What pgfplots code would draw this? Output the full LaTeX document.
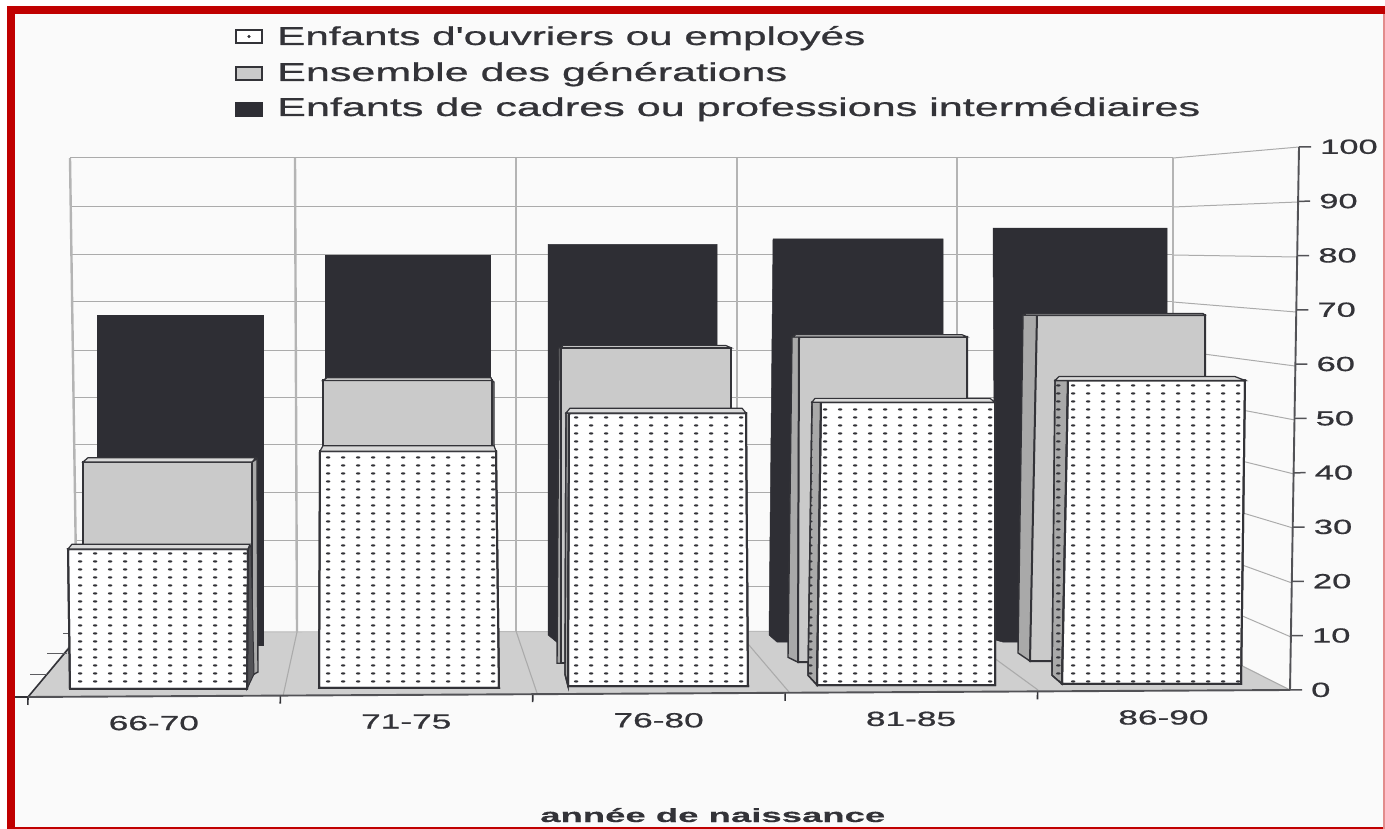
\documentclass[border=0pt]{standalone}
\usepackage{pgfplots}
\pgfplotsset{compat=1.18}
\usepackage{fontspec}
\usepackage{graphicx}
\usetikzlibrary{patterns}
\newfontfamily\lib[FakeBold=0.6]{Liberation Sans}
\newfontfamily\libb[FakeBold=0.3]{Liberation Sans Bold}
\definecolor{ink}{HTML}{333338}
\definecolor{dk}{HTML}{2E2E34}
\definecolor{gy}{HTML}{CACACA}
\definecolor{gyl}{HTML}{DADADA}
\definecolor{gyd}{HTML}{A9A9A9}
\definecolor{flr}{HTML}{CFCFCF}
\definecolor{grd}{HTML}{ABABAB}
\definecolor{frame}{HTML}{C00000}
\definecolor{paper}{HTML}{FAFAFA}
\pgfdeclarepatternformonly{mydots}{\pgfqpoint{0pt}{0pt}}{\pgfqpoint{14.6pt}{8pt}}{\pgfqpoint{14.6pt}{8pt}}{%
  \pgfpathellipse{\pgfqpoint{7.3pt}{4pt}}{\pgfqpoint{2.3pt}{0pt}}{\pgfqpoint{0pt}{1.3pt}}\pgfusepath{fill}}
\newcommand\Pg[2]{\addplot[#1] coordinates {#2} --cycle;}
\newcommand\Ln[2]{\addplot[#1] coordinates {#2};}
\tikzset{
  front/.style={fill=white,draw=ink,line width=2pt,postaction={pattern=mydots,pattern color=ink}},
  side/.style={fill=gyd,draw=ink,line width=1.4pt,postaction={pattern=mydots,pattern color=ink}},
  gfront/.style={fill=gy,draw=ink,line width=2pt},
  gside/.style={fill=gyd,draw=ink,line width=1.4pt},
  topf/.style={fill=gyl,draw=ink,line width=1.2pt},
  dark/.style={fill=dk,draw=dk,line width=.5pt},
  wall/.style={grd,line width=1pt},
  post/.style={grd!90,line width=2.4pt}
}
\begin{document}
\begin{tikzpicture}
\useasboundingbox (0,0) rectangle (1385pt,829pt);
%% structure, in pixels of the page
\begin{axis}[at={(0pt,0pt)},anchor=south west,scale only axis,width=1385pt,height=829pt,
  xmin=0,xmax=1385,ymin=0,ymax=829,y dir=reverse,axis lines=none,clip=false]
\Pg{fill=paper,draw=none}{(7,6)(1385,6)(1385,829)(7,829)}
% floor
\Pg{fill=flr,draw=none}{(28,697)(80,632)(1173,631)(1290,690)}
\Ln{gyd!80,line width=.9pt}{(80,632)(1173,631)}
% floor dividers
\Ln{grd,line width=1.1pt}{(297,632)(283,696)}
\Ln{grd,line width=1.1pt}{(516,631)(537,693)}
\Ln{grd,line width=1.1pt}{(737,631)(789,692)}
\Ln{grd,line width=1.1pt}{(957,631)(1038,690)}
\Ln{grd,line width=1.1pt}{(1173,631)(1290,690)}
% back wall horizontals
\Ln{wall}{(70,158)(1173,158)}
\Ln{wall}{(71,207)(1173,207)}
\Ln{wall}{(71,255)(1173,255)}
\Ln{wall}{(72,302)(1173,302)}
\Ln{wall}{(73,350)(1173,350)}
\Ln{wall}{(74,397)(1173,397)}
\Ln{wall}{(75,444)(1173,444)}
\Ln{wall}{(75,492)(1173,492)}
\Ln{wall}{(76,540)(1173,540)}
\Ln{wall}{(77,586)(1173,586)}
% right wall slanted lines
\Ln{wall}{(1173,158)(1299,147)}
\Ln{wall}{(1173,207)(1298,202)}
\Ln{wall}{(1173,255)(1297,257)}
\Ln{wall}{(1173,302)(1296,312)}
\Ln{wall}{(1173,350)(1295,366)}
\Ln{wall}{(1173,397)(1295,420)}
\Ln{wall}{(1173,444)(1294,474)}
\Ln{wall}{(1173,492)(1293,528)}
\Ln{wall}{(1173,540)(1292,583)}
\Ln{wall}{(1173,586)(1291,637)}
% back wall verticals
\Ln{post}{(70,158)(77,632)}
\Ln{post}{(295,158)(297,632)}
\Ln{post}{(516,158)(516,631)}
\Ln{post}{(737,158)(737,631)}
\Ln{post}{(957,158)(957,631)}
\Ln{post}{(1173,158)(1173,631)}
% left wall short lines and edge
\Ln{ink,line width=1.6pt}{(28,697)(69,648)}
\Ln{ink!80,line width=1pt}{(30,674)(47,674)}
\Ln{ink!80,line width=1pt}{(47,653)(67,653)}
\Ln{ink!80,line width=1pt}{(63,633)(70,633)}
\Ln{ink,line width=1.6pt}{(15,697)(28,697)}
% frame
\Pg{fill=frame,draw=none}{(7,6)(15,6)(15,829)(7,829)}
\Pg{fill=frame,draw=none}{(7,6)(1385,6)(1385,14)(7,14)}
\Pg{fill=frame,draw=none}{(7,827)(1385,827)(1385,829)(7,829)}
\Pg{fill=frame!45,draw=none}{(1383,14)(1385,14)(1385,829)(1383,829)}
% legend
\Pg{fill=white,draw=ink,line width=1.8pt}{(236,30)(262,30)(262,43)(236,43)}
\Pg{fill=gy,draw=ink,line width=1.8pt}{(236,67)(262,67)(262,80)(236,80)}
\Pg{fill=dk,draw=dk,line width=1.8pt}{(236,103)(262,103)(262,116)(236,116)}
\addplot[only marks,mark=*,mark size=1.3pt,color=ink] coordinates {(249,36.5)};
\node[anchor=base west,inner sep=0pt,text=ink] at (axis cs:277,45) {\resizebox{588pt}{19pt}{\lib Enfants d'ouvriers ou employés}};
\node[anchor=base west,inner sep=0pt,text=ink] at (axis cs:277,81) {\resizebox{510pt}{19pt}{\lib Ensemble des générations}};
\node[anchor=base west,inner sep=0pt,text=ink] at (axis cs:277,116) {\resizebox{923pt}{19pt}{\lib Enfants de cadres ou professions intermédiaires}};
\node[anchor=base west,inner sep=0pt,text=ink] at (axis cs:540,822) {\resizebox{345pt}{14pt}{\libb année de naissance}};
\end{axis}
%% bars: x in page pixels, y on the value scale of the chart
\begin{axis}[at={(0pt,0pt)},anchor=south west,scale only axis,width=1385pt,height=829pt,
  xmin=0,xmax=1385,ymin=-25.46,ymax=126.93,axis lines=none,clip=false]
% Enfants de cadres ou professions intermediaires
\Pg{dark}{(97,8.4)(97,69)(263,69)(263,8.4)}
\Pg{dark}{(325,10)(325,80)(490,80)(490,10)}
\Pg{dark}{(548,10.2)(548,82)(717,82)(717,9)(558,8.7)}
\Pg{dark}{(769,10.2)(773,83)(943,83)(943,9)(777,8.9)}
\Pg{dark}{(995,9.3)(993,85)(1167,85)(1167,9)(1003,8.9)}
% Ensemble des generations
\Pg{gside}{(252,42)(257,42.6)(258,3.4)(252,2.8)}
\Pg{gfront}{(83,5)(83,42)(252,42)(252,5)}
\Pg{topf}{(83,42)(88,42.8)(256,42.8)(252,42)}
\Pg{gside}{(492,57)(494,56.7)(494,5)(492,5)}
\Pg{gfront}{(323,5)(323,57)(492,57)(492,5)}
\Pg{topf}{(323,57)(327,57.5)(491,57.5)(492,57)}
\Pg{gside}{(557,5)(559,63)(561,63)(561,5)}
\Pg{gfront}{(561,5)(561,63)(731,63)(731,5)}
\Pg{topf}{(561,63)(563,63.4)(726,63.4)(731,63)}
\Pg{gside}{(788,6.1)(792,65)(799,65)(798,5.2)}
\Pg{gfront}{(798,5.2)(799,65)(967,65)(967,5.2)}
\Pg{topf}{(792,65)(796,65.4)(962,65.4)(967,65)}
\Pg{gside}{(1018,6.9)(1023,69)(1037,69)(1030,5.4)}
\Pg{gfront}{(1030,5.4)(1037,69)(1205,69)(1205,5.4)}
\Pg{topf}{(1023,69)(1026,69.3)(1203,69.3)(1205,69)}
% Enfants d'ouvriers ou employes
\Pg{fill=ink!85,draw=ink,line width=1pt}{(248,26)(251,26.7)(254,3)(247,0.3)}
\Pg{front}{(70,0.3)(68,26)(248,26)(247,0.3)}
\Pg{topf}{(68,26)(72,26.9)(250,26.9)(248,26)}
\Pg{front}{(319,0.5)(320,44)(496,44)(499,0.5)}
\Pg{topf}{(320,44)(323,45)(494,45)(496,44)}
\Pg{side}{(565,3)(566,51)(569,51)(568,0.8)}
\Pg{front}{(568,0.8)(569,51)(746,51)(748,0.8)}
\Pg{topf}{(566,51)(570,51.9)(742,51.9)(746,51)}
\Pg{side}{(808,2.8)(812,53)(821,53)(817,1)}
\Pg{front}{(817,1)(821,53)(995,53)(995,1)}
\Pg{topf}{(812,53)(815,53.7)(990,53.7)(995,53)}
\Pg{side}{(1052,2.8)(1055,57)(1068,57)(1062,1.2)}
\Pg{front}{(1062,1.2)(1068,57)(1245,57)(1241,1.2)}
\Pg{topf}{(1055,57)(1059,57.7)(1235,57.7)(1245,57)}
\end{axis}
%% the axes proper, slightly skewed like the scan
\begin{axis}[at={(28pt,132pt)},anchor=origin,
  x={(252.4pt,1.4pt)},y={(0.09pt,5.43pt)},
  xmin=0,xmax=5,ymin=0,ymax=100,
  axis x line=bottom,axis y line=right,axis line style={-,draw=ink!85,line width=1.9pt},
  ytick={0,10,...,100},
  xtick={0.5,1.5,2.5,3.5,4.5},
  xticklabels={{\scalebox{1.72}[1]{66-70}},{\scalebox{1.72}[1]{71-75}},{\scalebox{1.72}[1]{76-80}},{\scalebox{1.72}[1]{81-85}},{\scalebox{1.72}[1]{86-90}}},
  minor xtick={0,1,2,3,4},
  yticklabel={\scalebox{1.68}[1]{\pgfmathprintnumber{\tick}}},
  /pgf/number format/assume math mode=true,
  tick align=outside,major tick length=12pt,minor tick length=8pt,
  major x tick style={draw=none},
  minor x tick style={draw=ink,line width=1.6pt},
  ytick style={draw=ink!85,line width=1.5pt},
  tick label style={font=\lib\fontsize{20.5}{20.5}\selectfont,text=ink},
  xticklabel style={yshift=-4pt},
  yticklabel style={inner xsep=1pt,xshift=8pt},
  clip=false]
\end{axis}
\end{tikzpicture}
\end{document}
